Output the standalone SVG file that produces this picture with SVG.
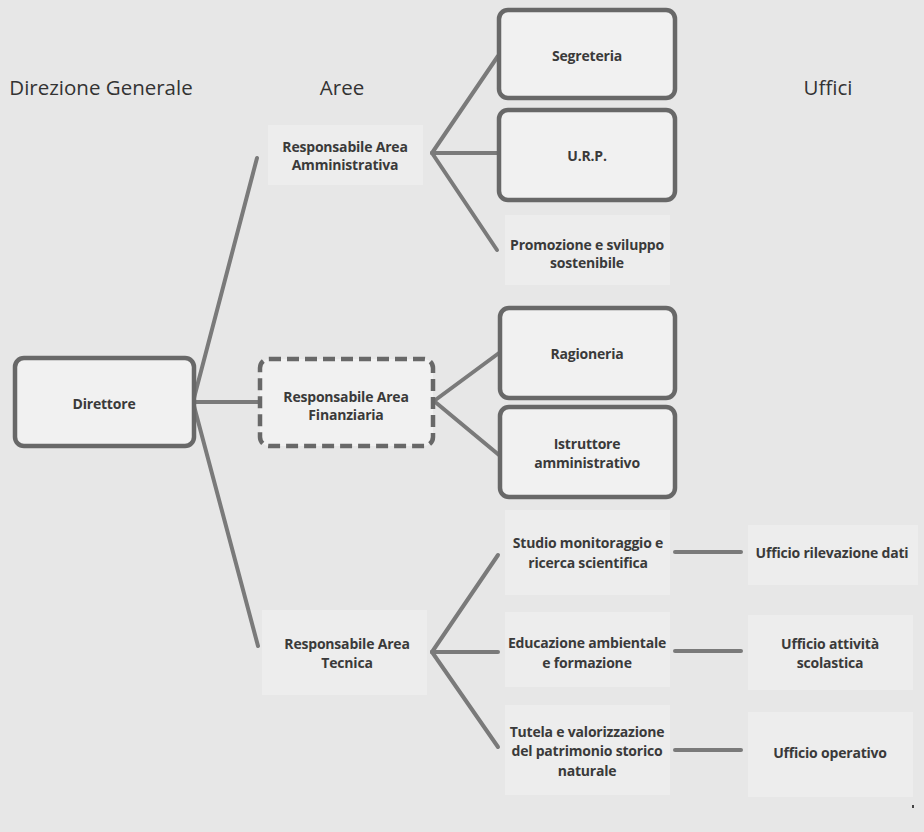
<svg xmlns="http://www.w3.org/2000/svg" width="924" height="832" viewBox="0 0 924 832">
<style>
.hdr{font-family:"Open Sans","Noto Sans",sans-serif;font-size:20.5px;fill:#333;text-anchor:middle;dominant-baseline:central}
.lbl{font-family:"Open Sans","Noto Sans",sans-serif;font-size:14px;font-weight:700;fill:#3a3a3a;text-anchor:middle;dominant-baseline:central;letter-spacing:-0.2px}
.box{fill:#f1f1f1;stroke:#686868;stroke-width:4.5}
.dash{fill:#f1f1f1;stroke:#686868;stroke-width:4.5;stroke-dasharray:12 6}
.pane{fill:#ededed}
.con line{stroke:#7a7a7a;stroke-width:4;stroke-linecap:round}
</style>
<rect x="0" y="0" width="924" height="832" fill="#e7e7e7"/>

<g id="headers">
<text class="hdr" x="101" y="87">Direzione Generale</text>
<text class="hdr" x="342" y="87">Aree</text>
<text class="hdr" x="828" y="87">Uffici</text>
</g>

<g class="con" id="connectors">
<line x1="194" y1="398" x2="257" y2="158"/>
<line x1="194" y1="402" x2="259" y2="402"/>
<line x1="194" y1="406" x2="258" y2="646"/>
<line x1="432" y1="153" x2="498" y2="56"/>
<line x1="432" y1="153" x2="498" y2="153"/>
<line x1="432" y1="153" x2="497" y2="250"/>
<line x1="434" y1="401" x2="499" y2="353"/>
<line x1="434" y1="401" x2="499" y2="455"/>
<line x1="432" y1="652" x2="498" y2="555"/>
<line x1="432" y1="652" x2="498" y2="652"/>
<line x1="432" y1="652" x2="498" y2="747"/>
<line x1="675" y1="552" x2="741" y2="552"/>
<line x1="675" y1="651" x2="741" y2="651"/>
<line x1="675" y1="750" x2="741" y2="750"/>
</g>

<g id="direttore">
<rect class="box" x="15" y="358" width="179" height="88" rx="9"/>
<text class="lbl" x="104" y="403">Direttore</text>
</g>

<g id="area-amministrativa">
<rect class="pane" x="268" y="125" width="155" height="60"/>
<text class="lbl" x="345" y="146">Responsabile Area</text>
<text class="lbl" x="345" y="164">Amministrativa</text>
</g>

<g id="area-finanziaria">
<rect class="dash" x="260" y="359" width="173" height="87" rx="9"/>
<text class="lbl" x="346" y="396">Responsabile Area</text>
<text class="lbl" x="346" y="414">Finanziaria</text>
</g>

<g id="area-tecnica">
<rect class="pane" x="262" y="610" width="165" height="85"/>
<text class="lbl" x="347" y="643">Responsabile Area</text>
<text class="lbl" x="347" y="662">Tecnica</text>
</g>

<g id="segreteria">
<rect class="box" x="499" y="10" width="176" height="88" rx="9"/>
<text class="lbl" x="587" y="55">Segreteria</text>
</g>

<g id="urp">
<rect class="box" x="499" y="110" width="176" height="90" rx="9"/>
<text class="lbl" x="587" y="155">U.R.P.</text>
</g>

<g id="promozione">
<rect class="pane" x="505" y="215" width="165" height="70"/>
<text class="lbl" x="587" y="244">Promozione e sviluppo</text>
<text class="lbl" x="587" y="262">sostenibile</text>
</g>

<g id="ragioneria">
<rect class="box" x="500" y="308" width="175" height="90" rx="9"/>
<text class="lbl" x="587" y="353">Ragioneria</text>
</g>

<g id="istruttore">
<rect class="box" x="500" y="407" width="175" height="90" rx="9"/>
<text class="lbl" x="587" y="443">Istruttore</text>
<text class="lbl" x="587" y="462">amministrativo</text>
</g>

<g id="studio">
<rect class="pane" x="505" y="510" width="165" height="85"/>
<text class="lbl" x="588" y="542">Studio monitoraggio e</text>
<text class="lbl" x="588" y="562">ricerca scientifica</text>
</g>

<g id="educazione">
<rect class="pane" x="505" y="612" width="165" height="75"/>
<text class="lbl" x="587" y="642">Educazione ambientale</text>
<text class="lbl" x="587" y="662">e formazione</text>
</g>

<g id="tutela">
<rect class="pane" x="505" y="705" width="165" height="90"/>
<text class="lbl" x="587" y="731">Tutela e valorizzazione</text>
<text class="lbl" x="587" y="750">del patrimonio storico</text>
<text class="lbl" x="587" y="770">naturale</text>
</g>

<g id="ufficio-rilevazione">
<rect class="pane" x="748" y="525" width="170" height="60"/>
<text class="lbl" x="832" y="552">Ufficio rilevazione dati</text>
</g>

<g id="ufficio-attivita">
<rect class="pane" x="748" y="615" width="165" height="75"/>
<text class="lbl" x="830" y="643">Ufficio attività</text>
<text class="lbl" x="830" y="662">scolastica</text>
</g>

<g id="ufficio-operativo">
<rect class="pane" x="748" y="712" width="165" height="85"/>
<text class="lbl" x="830" y="752">Ufficio operativo</text>
</g>

<rect x="912" y="805" width="2" height="3" fill="#444"/>
</svg>
